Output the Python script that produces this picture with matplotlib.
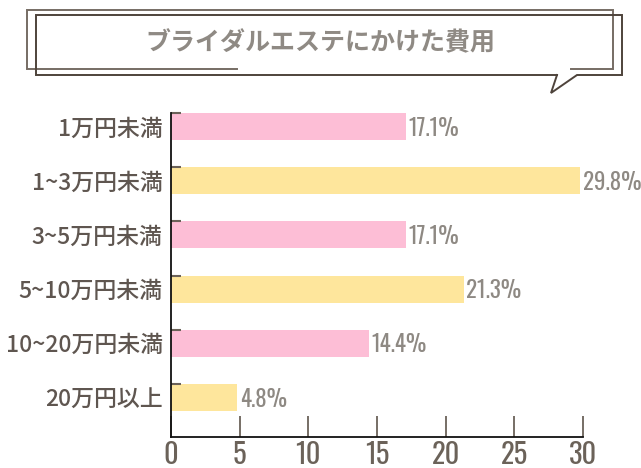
import matplotlib
matplotlib.use("Agg")
import matplotlib.pyplot as plt
from matplotlib import font_manager
from matplotlib.font_manager import FontProperties
from matplotlib.lines import Line2D

categories = ["1万円未満", "1~3万円未満", "3~5万円未満", "5~10万円未満", "10~20万円未満", "20万円以上"]
values = [17.1, 29.8, 17.1, 21.3, 14.4, 4.8]
value_labels = ["17.1%", "29.8%", "17.1%", "21.3%", "14.4%", "4.8%"]
xticks = [0, 5, 10, 15, 20, 25, 30]
title = "ブライダルエステにかけた費用"

pink = "#FDBED6"
yellow = "#FEE69C"
bar_colors = [pink, yellow, pink, yellow, pink, yellow]

allf = sorted(set(f.fname for f in font_manager.fontManager.ttflist))
narrow_file = None
for key in ["oswald-regular", "oswald[", "oswald", "barlowcondensed-regular", "robotocondensed-regular"]:
    for fn in allf:
        if key in fn.lower():
            narrow_file = fn
            break
    if narrow_file:
        break


def nprop(size):
    if narrow_file:
        return FontProperties(fname=narrow_file, size=size)
    return FontProperties(family="DejaVu Sans", size=size)


cjk = ["Noto Sans CJK JP", "DejaVu Sans"]

W, H = 641, 468
fig = plt.figure(figsize=(W / 100, H / 100), dpi=100)
ax = fig.add_axes([171 / W, 1 - 437 / H, (583 - 171) / W, (437 - 113) / H])

ypos = list(range(len(categories)))
ax.barh(ypos, values, height=0.5, color=bar_colors)
ax.set_xlim(0, 30)
ax.set_ylim(5.73, -0.25)

for y, v, lab in zip(ypos, values, value_labels):
    ax.text(v + 0.2, y + 0.03, lab, va="center", ha="left",
            fontproperties=nprop(16.5), color="#8e8983")

ax.set_yticks(ypos)
ax.set_yticklabels(categories, family=cjk, fontsize=16.5, fontweight="medium", color="#5f5650")
ax.tick_params(axis="y", which="major", length=0, pad=6)
ax.set_yticks([y - 0.25 for y in ypos], minor=True)
ax.tick_params(axis="y", which="minor", length=7.5, width=1.5, direction="in", color="#6b6259")

ax.set_xticks(xticks)
ax.set_xticklabels([str(t) for t in xticks], color="#6b6259")
for t in ax.get_xticklabels():
    t.set_fontproperties(nprop(20.5))
ax.tick_params(axis="x", length=15, width=1.3, direction="in", color="#6b6259", pad=3)

for s in ["top", "right"]:
    ax.spines[s].set_visible(False)
for s in ["left", "bottom"]:
    ax.spines[s].set_color("#111111")
    ax.spines[s].set_linewidth(1.3)


def fx(x):
    return x / W


def fy(y):
    return 1 - y / H


def seg(pts, color, lw=1.4):
    xs = [fx(p[0]) for p in pts]
    ys = [fy(p[1]) for p in pts]
    fig.add_artist(Line2D(xs, ys, color=color, lw=lw, transform=fig.transFigure,
                          solid_joinstyle="miter"))


back = "#766c64"
front = "#4e433b"
seg([(237, 69), (27, 69), (27, 9.5), (613, 9.5), (613, 69), (571, 69)], back)
seg([(557, 75), (36, 75), (36, 15), (622, 15), (622, 75), (577, 75), (551, 93), (557, 75)], front)

fig.text(fx(320), fy(43), title, ha="center", va="center", family=cjk,
         fontsize=18, fontweight="bold", color="#8f8a84")

fig.savefig("out.png", dpi=100)
